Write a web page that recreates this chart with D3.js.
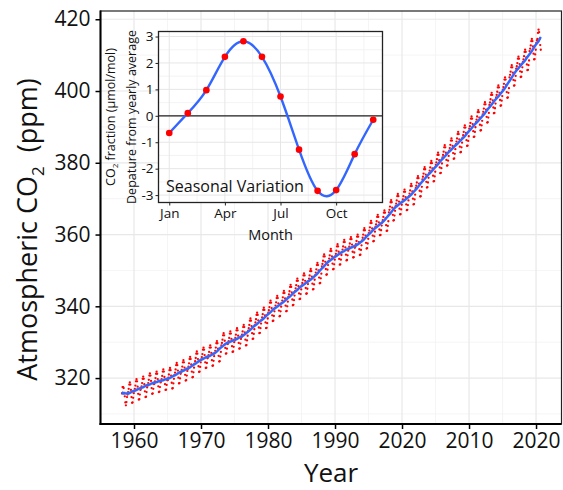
<!DOCTYPE html>
<html>
<head>
<meta charset="utf-8">
<script src="https://cdn.jsdelivr.net/npm/d3@7"></script>
<style>
body { margin: 0; background: #fff; }
text { font-family: "Open Sans", sans-serif; }
</style>
</head>
<body>
<script>
// monthly CO2 (ppm), one row per year: [year, Jan ... Dec]
var co2Monthly = [
[1958, null, null, 315.7, 317.5, 317.5, 317.2, 315.9, 314.9, 313.2, 312.4, 313.3, 314.7],
[1959, 315.4, 316.1, 317.0, 318.2, 318.8, 318.2, 316.7, 314.7, 313.1, 313.2, 314.5, 315.8],
[1960, 316.3, 317.0, 317.9, 319.1, 319.7, 319.1, 317.6, 315.6, 314.0, 314.1, 315.4, 316.7],
[1961, 317.0, 317.7, 318.6, 319.8, 320.4, 319.8, 318.3, 316.3, 314.7, 314.8, 316.1, 317.4],
[1962, 317.9, 318.6, 319.5, 320.7, 321.3, 320.7, 319.2, 317.2, 315.6, 315.7, 317.0, 318.3],
[1963, 318.4, 319.1, 320.0, 321.2, 321.8, 321.2, 319.7, 317.7, 316.1, 316.2, 317.5, 318.8],
[1964, 319.0, 319.7, 320.6, 321.8, 322.4, 321.8, 320.3, 318.3, 316.7, 316.8, 318.1, 319.4],
[1965, 319.4, 320.1, 321.0, 322.2, 322.8, 322.2, 320.7, 318.7, 317.1, 317.2, 318.5, 319.8],
[1966, 320.8, 321.5, 322.4, 323.6, 324.2, 323.6, 322.1, 320.1, 318.5, 318.6, 319.9, 321.2],
[1967, 321.6, 322.3, 323.2, 324.4, 325.0, 324.4, 322.9, 320.9, 319.3, 319.4, 320.7, 322.0],
[1968, 322.5, 323.2, 324.1, 325.3, 325.9, 325.3, 323.8, 321.8, 320.2, 320.3, 321.6, 322.9],
[1969, 324.0, 324.7, 325.6, 326.8, 327.4, 326.8, 325.3, 323.3, 321.7, 321.8, 323.1, 324.4],
[1970, 325.1, 325.8, 326.7, 327.9, 328.5, 327.9, 326.4, 324.4, 322.8, 322.9, 324.2, 325.5],
[1971, 325.7, 326.4, 327.3, 328.5, 329.1, 328.5, 327.0, 325.0, 323.4, 323.5, 324.8, 326.1],
[1972, 326.9, 327.6, 328.5, 329.7, 330.3, 329.7, 328.2, 326.2, 324.6, 324.7, 326.0, 327.3],
[1973, 329.1, 329.8, 330.7, 331.9, 332.5, 331.9, 330.4, 328.4, 326.8, 326.9, 328.2, 329.5],
[1974, 329.6, 330.3, 331.2, 332.4, 333.0, 332.4, 330.9, 328.9, 327.3, 327.4, 328.7, 330.0],
[1975, 330.5, 331.2, 332.1, 333.3, 333.9, 333.3, 331.8, 329.8, 328.2, 328.3, 329.6, 330.9],
[1976, 331.4, 332.1, 333.0, 334.2, 334.8, 334.2, 332.7, 330.7, 329.1, 329.2, 330.5, 331.8],
[1977, 333.2, 333.9, 334.8, 336.0, 336.6, 336.0, 334.5, 332.5, 330.9, 331.0, 332.3, 333.6],
[1978, 334.8, 335.5, 336.4, 337.6, 338.2, 337.6, 336.1, 334.1, 332.5, 332.6, 333.9, 335.2],
[1979, 336.2, 336.9, 337.8, 339.0, 339.6, 339.0, 337.5, 335.5, 333.9, 334.0, 335.3, 336.6],
[1980, 338.2, 338.9, 339.8, 341.0, 341.6, 341.0, 339.5, 337.5, 335.9, 336.0, 337.3, 338.6],
[1981, 339.5, 340.2, 341.1, 342.3, 342.9, 342.3, 340.8, 338.8, 337.2, 337.3, 338.6, 339.9],
[1982, 340.9, 341.6, 342.5, 343.7, 344.3, 343.7, 342.2, 340.2, 338.6, 338.7, 340.0, 341.3],
[1983, 342.6, 343.3, 344.2, 345.4, 346.0, 345.4, 343.9, 341.9, 340.3, 340.4, 341.7, 343.0],
[1984, 344.3, 345.0, 345.9, 347.1, 347.7, 347.1, 345.6, 343.6, 342.0, 342.1, 343.4, 344.7],
[1985, 345.8, 346.5, 347.4, 348.6, 349.2, 348.6, 347.1, 345.1, 343.5, 343.6, 344.9, 346.2],
[1986, 347.0, 347.7, 348.6, 349.8, 350.4, 349.8, 348.3, 346.3, 344.7, 344.8, 346.1, 347.4],
[1987, 348.7, 349.4, 350.3, 351.5, 352.1, 351.5, 350.0, 348.0, 346.4, 346.5, 347.8, 349.1],
[1988, 351.1, 351.8, 352.7, 353.9, 354.5, 353.9, 352.4, 350.4, 348.8, 348.9, 350.2, 351.5],
[1989, 352.6, 353.3, 354.2, 355.4, 356.0, 355.4, 353.9, 351.9, 350.3, 350.4, 351.7, 353.0],
[1990, 353.9, 354.6, 355.5, 356.7, 357.3, 356.7, 355.2, 353.2, 351.6, 351.7, 353.0, 354.3],
[1991, 355.1, 355.8, 356.7, 357.9, 358.5, 357.9, 356.4, 354.4, 352.8, 352.9, 354.2, 355.5],
[1992, 355.9, 356.6, 357.5, 358.7, 359.3, 358.7, 357.2, 355.2, 353.6, 353.7, 355.0, 356.3],
[1993, 356.6, 357.3, 358.2, 359.4, 360.0, 359.4, 357.9, 355.9, 354.3, 354.4, 355.7, 357.0],
[1994, 358.4, 359.1, 360.0, 361.2, 361.8, 361.2, 359.7, 357.7, 356.1, 356.2, 357.5, 358.8],
[1995, 360.4, 361.1, 362.0, 363.2, 363.8, 363.2, 361.7, 359.7, 358.1, 358.2, 359.5, 360.8],
[1996, 362.1, 362.8, 363.7, 364.9, 365.5, 364.9, 363.4, 361.4, 359.8, 359.9, 361.2, 362.5],
[1997, 363.3, 364.0, 364.9, 366.1, 366.7, 366.1, 364.6, 362.6, 361.0, 361.1, 362.4, 363.7],
[1998, 366.2, 366.9, 367.8, 369.0, 369.6, 369.0, 367.5, 365.5, 363.9, 364.0, 365.3, 366.6],
[1999, 367.9, 368.6, 369.5, 370.7, 371.3, 370.7, 369.2, 367.2, 365.6, 365.7, 367.0, 368.3],
[2000, 369.1, 369.8, 370.7, 371.9, 372.5, 371.9, 370.4, 368.4, 366.8, 366.9, 368.2, 369.5],
[2001, 370.7, 371.4, 372.3, 373.5, 374.1, 373.5, 372.0, 370.0, 368.4, 368.5, 369.8, 371.1],
[2002, 372.9, 373.6, 374.5, 375.7, 376.3, 375.7, 374.2, 372.2, 370.6, 370.7, 372.0, 373.3],
[2003, 375.4, 376.1, 377.0, 378.2, 378.8, 378.2, 376.7, 374.7, 373.1, 373.2, 374.5, 375.8],
[2004, 377.1, 377.8, 378.7, 379.9, 380.5, 379.9, 378.4, 376.4, 374.8, 374.9, 376.2, 377.5],
[2005, 379.4, 380.1, 381.0, 382.2, 382.8, 382.2, 380.7, 378.7, 377.1, 377.2, 378.5, 379.8],
[2006, 381.5, 382.2, 383.1, 384.3, 384.9, 384.3, 382.8, 380.8, 379.2, 379.3, 380.6, 381.9],
[2007, 383.4, 384.1, 385.0, 386.2, 386.8, 386.2, 384.7, 382.7, 381.1, 381.2, 382.5, 383.8],
[2008, 385.2, 385.9, 386.8, 388.0, 388.6, 388.0, 386.5, 384.5, 382.9, 383.0, 384.3, 385.6],
[2009, 387.0, 387.7, 388.6, 389.8, 390.4, 389.8, 388.3, 386.3, 384.7, 384.8, 386.1, 387.4],
[2010, 389.5, 390.2, 391.1, 392.3, 392.9, 392.3, 390.8, 388.8, 387.2, 387.3, 388.6, 389.9],
[2011, 391.3, 392.0, 392.9, 394.1, 394.7, 394.1, 392.6, 390.6, 389.0, 389.1, 390.4, 391.7],
[2012, 393.5, 394.2, 395.1, 396.3, 396.9, 396.3, 394.8, 392.8, 391.2, 391.3, 392.6, 393.9],
[2013, 396.1, 396.8, 397.7, 398.9, 399.5, 398.9, 397.4, 395.4, 393.8, 393.9, 395.2, 396.5],
[2014, 398.2, 398.9, 399.8, 401.0, 401.6, 401.0, 399.5, 397.5, 395.9, 396.0, 397.3, 398.6],
[2015, 400.4, 401.1, 402.0, 403.2, 403.8, 403.2, 401.7, 399.7, 398.1, 398.2, 399.5, 400.8],
[2016, 403.8, 404.5, 405.4, 406.6, 407.2, 406.6, 405.1, 403.1, 401.5, 401.6, 402.9, 404.2],
[2017, 406.2, 406.9, 407.8, 409.0, 409.6, 409.0, 407.5, 405.5, 403.9, 404.0, 405.3, 406.6],
[2018, 408.1, 408.8, 409.7, 410.9, 411.5, 410.9, 409.4, 407.4, 405.8, 405.9, 407.2, 408.5],
[2019, 411.1, 411.8, 412.7, 413.9, 414.5, 413.9, 412.4, 410.4, 408.8, 408.9, 410.2, 411.5],
[2020, 413.4, 414.1, 414.5, 416.2, 417.1, 416.4, 414.6, 412.8, 411.5, null, null, null]
];

var xTickValues = [1960, 1970, 1980, 1990, 2000, 2010, 2020];
var xTickLabels = ['1960', '1970', '1980', '1990', '2020', '2010', '2020'];
var yTickValues = [320, 340, 360, 380, 400, 420];

// inset: departure from yearly average by month
var seasonMonths = [1, 2, 3, 4, 5, 6, 7, 8, 9, 10, 11, 12];
var seasonValues = [-0.65, 0.1, 0.97, 2.23, 2.82, 2.23, 0.73, -1.28, -2.84, -2.81, -1.45, -0.15];
var seasonTickMonths = [1, 4, 7, 10];
var seasonTickLabels = ['Jan', 'Apr', 'Jul', 'Oct'];
var seasonYTicks = [-3, -2, -1, 0, 1, 2, 3];

var points = [];
co2Monthly.forEach(function(row){
    for (var m = 0; m < 12; m++){
        if (row[m+1] != null){
            points.push({x: row[0] + m/12 + 1/24, y: row[m+1]});
        }
    }
});

// local linear smoother (tricube weights), like geom_smooth
function smooth(pts, h){
    return pts.map(function(p){
        var sw = 0, sx = 0, sy = 0, sxx = 0, sxy = 0;
        pts.forEach(function(q){
            var dx = q.x - p.x;
            var d = Math.abs(dx)/h;
            if (d < 1){
                var w = Math.pow(1 - d*d*d, 3);
                sw += w; sx += w*dx; sy += w*q.y; sxx += w*dx*dx; sxy += w*dx*q.y;
            }
        });
        var mx = sx/sw, my = sy/sw;
        var b = (sxy/sw - mx*my)/(sxx/sw - mx*mx);
        return {x: p.x, y: my - b*mx};
    });
}
var fit = smooth(points, 1.5);

var svgwidth = 563, svgheight = 490;
var pLeft = 100.5, pRight = 561.5, pTop = 11, pBottom = 424;

var svg = d3.select('body').append('svg')
    .attr('width', svgwidth)
    .attr('height', svgheight);

var xScale = d3.scaleLinear().domain([1955, 2023.8]).range([pLeft, pRight]);
var yScale = d3.scaleLinear().domain([307.2, 422.3]).range([pBottom, pTop]);

// grid
var xMinor = xTickValues.map(function(d){ return d + 5; }).filter(function(d){ return d < 2023.8; });
var yMinor = [310, 330, 350, 370, 390, 410];
svg.append('g').selectAll('line').data(xMinor).enter().append('line')
    .attr('x1', function(d){ return xScale(d); }).attr('x2', function(d){ return xScale(d); })
    .attr('y1', pTop).attr('y2', pBottom)
    .style('stroke', '#f2f2f2').style('stroke-width', 0.8);
svg.append('g').selectAll('line').data(yMinor).enter().append('line')
    .attr('y1', function(d){ return yScale(d); }).attr('y2', function(d){ return yScale(d); })
    .attr('x1', pLeft).attr('x2', pRight)
    .style('stroke', '#f2f2f2').style('stroke-width', 0.8);
svg.append('g').selectAll('line').data(xTickValues).enter().append('line')
    .attr('x1', function(d){ return xScale(d); }).attr('x2', function(d){ return xScale(d); })
    .attr('y1', pTop).attr('y2', pBottom)
    .style('stroke', '#e8e8e8').style('stroke-width', 1.2);
svg.append('g').selectAll('line').data(yTickValues).enter().append('line')
    .attr('y1', function(d){ return yScale(d); }).attr('y2', function(d){ return yScale(d); })
    .attr('x1', pLeft).attr('x2', pRight)
    .style('stroke', '#e8e8e8').style('stroke-width', 1.2);

// points
svg.append('g').selectAll('circle').data(points).enter().append('circle')
    .attr('cx', function(d){ return xScale(d.x); })
    .attr('cy', function(d){ return yScale(d.y); })
    .attr('r', 1.15)
    .style('fill', '#ff0000');

// smooth: band + line
var band = d3.area()
    .x(function(d){ return xScale(d.x); })
    .y0(function(d){ return yScale(d.y - 0.5); })
    .y1(function(d){ return yScale(d.y + 0.5); });
svg.append('path').datum(fit).attr('d', band)
    .style('fill', '#999').style('opacity', 0.35);
var line = d3.line()
    .x(function(d){ return xScale(d.x); })
    .y(function(d){ return yScale(d.y); });
svg.append('path').datum(fit).attr('d', line)
    .style('fill', 'none').style('stroke', '#3366ff').style('stroke-width', 2.4);

// border + axes
svg.append('rect').attr('x', pLeft).attr('y', pTop)
    .attr('width', pRight - pLeft).attr('height', pBottom - pTop)
    .style('fill', 'none').style('stroke', '#222').style('stroke-width', 1.2);
svg.append('line').attr('x1', pLeft).attr('x2', pLeft).attr('y1', pTop - 0.5).attr('y2', pBottom + 1)
    .style('stroke', '#000').style('stroke-width', 2);
svg.append('line').attr('x1', pLeft - 1).attr('x2', pRight).attr('y1', pBottom).attr('y2', pBottom)
    .style('stroke', '#000').style('stroke-width', 2);

const xAxis = d3.axisBottom(xScale).tickValues(xTickValues).tickSize(5).tickPadding(4)
    .tickFormat(function(d, i){ return xTickLabels[i]; });
const yAxis = d3.axisLeft(yScale).tickValues(yTickValues).tickSize(5).tickPadding(5)
    .tickFormat(function(d){ return String(d); });

var gx = svg.append('g').attr('transform', 'translate(0,' + pBottom + ')').call(xAxis);
var gy = svg.append('g').attr('transform', 'translate(' + pLeft + ',0)').call(yAxis);
[gx, gy].forEach(function(g){
    g.select('.domain').remove();
    g.selectAll('line').style('stroke', '#000').style('stroke-width', 1.5);
    g.selectAll('text').style('font-family', '"Open Sans", sans-serif')
        .style('font-size', '21px').style('fill', '#111');
});

// axis titles
svg.append('text').attr('x', (pLeft + pRight)/2).attr('y', 482)
    .attr('text-anchor', 'middle').style('font-size', '26px').style('fill', '#111')
    .text('Year');
var yt = svg.append('text')
    .attr('transform', 'translate(37,' + ((pTop + pBottom)/2 + 12) + ') rotate(-90)')
    .attr('text-anchor', 'middle').style('font-size', '27px').style('fill', '#111')
    .style('white-space', 'pre');
yt.append('tspan').text('Atmospheric CO');
yt.append('tspan').attr('dy', 7).style('font-size', '17px').text('2');
yt.append('tspan').attr('dy', -7).text('  (ppm)');

// ---------- inset ----------
var iLeft = 158.5, iRight = 382.5, iTop = 31.5, iBottom = 202.5;
var ix = d3.scaleLinear().domain([0.42, 12.5]).range([iLeft, iRight]);
var iy = d3.scaleLinear().domain([-3.28, 3.19]).range([iBottom, iTop]);

svg.append('rect').attr('x', iLeft).attr('y', iTop)
    .attr('width', iRight - iLeft).attr('height', iBottom - iTop)
    .style('fill', '#fff');

var ixMinor = [2.5, 5.5, 8.5, 11.5];
var iyMinor = [-2.5, -1.5, -0.5, 0.5, 1.5, 2.5];
svg.append('g').selectAll('line').data(ixMinor).enter().append('line')
    .attr('x1', function(d){ return ix(d); }).attr('x2', function(d){ return ix(d); })
    .attr('y1', iTop).attr('y2', iBottom)
    .style('stroke', '#f0f0f0').style('stroke-width', 0.8);
svg.append('g').selectAll('line').data(iyMinor).enter().append('line')
    .attr('y1', function(d){ return iy(d); }).attr('y2', function(d){ return iy(d); })
    .attr('x1', iLeft).attr('x2', iRight)
    .style('stroke', '#f0f0f0').style('stroke-width', 0.8);
svg.append('g').selectAll('line').data(seasonTickMonths).enter().append('line')
    .attr('x1', function(d){ return ix(d); }).attr('x2', function(d){ return ix(d); })
    .attr('y1', iTop).attr('y2', iBottom)
    .style('stroke', '#e6e6e6').style('stroke-width', 1);
svg.append('g').selectAll('line').data(seasonYTicks).enter().append('line')
    .attr('y1', function(d){ return iy(d); }).attr('y2', function(d){ return iy(d); })
    .attr('x1', iLeft).attr('x2', iRight)
    .style('stroke', '#e6e6e6').style('stroke-width', 1);

// zero line
svg.append('line').attr('x1', iLeft).attr('x2', iRight)
    .attr('y1', iy(0)).attr('y2', iy(0))
    .style('stroke', '#222').style('stroke-width', 1.2);

var seasonPts = seasonMonths.map(function(m, i){ return {m: m, v: seasonValues[i]}; });
var iline = d3.line().curve(d3.curveNatural)
    .x(function(d){ return ix(d.m); })
    .y(function(d){ return iy(d.v); });
svg.append('path').datum(seasonPts).attr('d', iline)
    .style('fill', 'none').style('stroke', '#3366ff').style('stroke-width', 2.4);
svg.append('g').selectAll('circle').data(seasonPts).enter().append('circle')
    .attr('cx', function(d){ return ix(d.m); })
    .attr('cy', function(d){ return iy(d.v); })
    .attr('r', 3.3)
    .style('fill', '#ff0000');

svg.append('text').attr('x', 166).attr('y', 191.5)
    .style('font-size', '16px').style('fill', '#111')
    .text('Seasonal Variation');

svg.append('rect').attr('x', iLeft).attr('y', iTop)
    .attr('width', iRight - iLeft).attr('height', iBottom - iTop)
    .style('fill', 'none').style('stroke', '#222').style('stroke-width', 1.3);

const ixAxis = d3.axisBottom(ix).tickValues(seasonTickMonths).tickSize(3).tickPadding(3)
    .tickFormat(function(d, i){ return seasonTickLabels[i]; });
const iyAxis = d3.axisLeft(iy).tickValues(seasonYTicks).tickSize(3).tickPadding(2)
    .tickFormat(function(d){ return String(d); });
var gix = svg.append('g').attr('transform', 'translate(0,' + iBottom + ')').call(ixAxis);
var giy = svg.append('g').attr('transform', 'translate(' + iLeft + ',0)').call(iyAxis);
[gix, giy].forEach(function(g){
    g.select('.domain').remove();
    g.selectAll('line').style('stroke', '#222');
    g.selectAll('text').style('font-family', '"Open Sans", sans-serif')
        .style('font-size', '13.5px').style('fill', '#111');
});

svg.append('text').attr('x', (iLeft + iRight)/2).attr('y', 240)
    .attr('text-anchor', 'middle').style('font-size', '14.5px').style('fill', '#111')
    .text('Month');

var il1 = svg.append('text')
    .attr('transform', 'translate(115,' + ((iTop + iBottom)/2) + ') rotate(-90)')
    .attr('text-anchor', 'middle').style('font-size', '12.5px').style('fill', '#111');
il1.append('tspan').text('CO');
il1.append('tspan').attr('dy', 3).style('font-size', '8px').text('2');
il1.append('tspan').attr('dy', -3).text(' fraction (\u00b5mol/mol)');
svg.append('text')
    .attr('transform', 'translate(136,' + ((iTop + iBottom)/2) + ') rotate(-90)')
    .attr('text-anchor', 'middle').style('font-size', '12.5px').style('fill', '#111')
    .text('Depature from yearly average');
</script>
</body>
</html>
